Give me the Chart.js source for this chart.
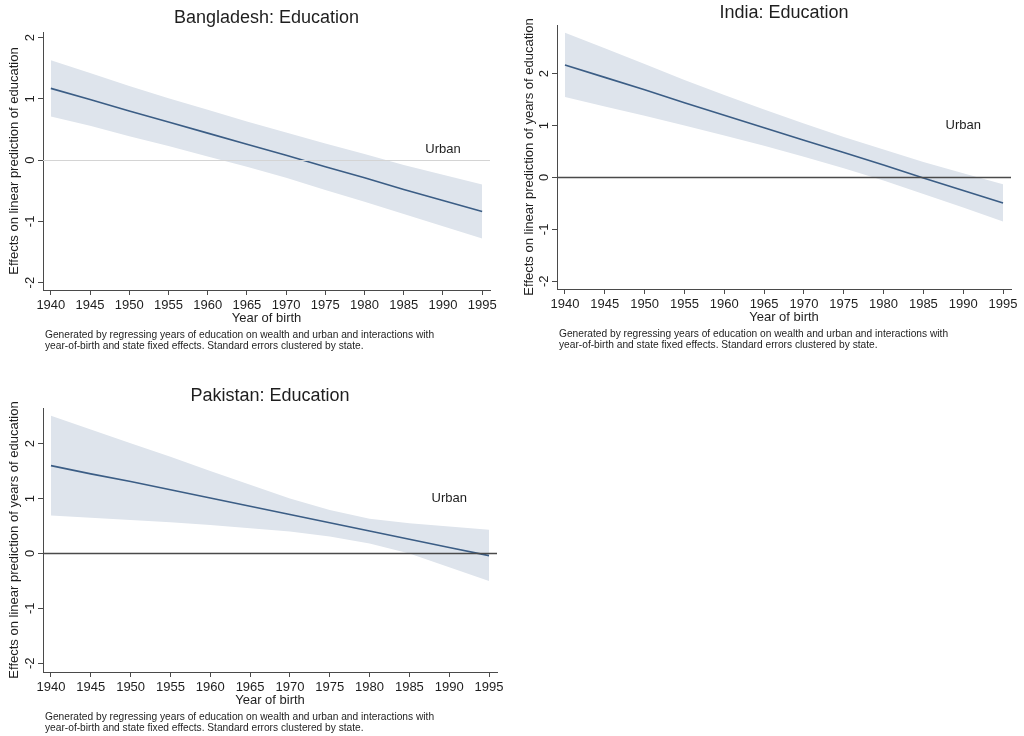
<!DOCTYPE html>
<html>
<head>
<meta charset="utf-8">
<script src="https://cdn.jsdelivr.net/npm/chart.js@4.4.1/dist/chart.umd.min.js"></script>
<style>
  html, body { margin: 0; padding: 0; background: #fff; }
  body { width: 1024px; height: 736px; position: relative; overflow: hidden; }
  .panel { position: absolute; }
</style>
</head>
<body>
<div class="panel" style="left:0;top:0;width:512px;height:360px"><canvas id="bgd" width="512" height="360"></canvas></div>
<div class="panel" style="left:512px;top:0;width:512px;height:360px"><canvas id="ind" width="512" height="360"></canvas></div>
<div class="panel" style="left:0;top:380px;width:512px;height:356px"><canvas id="pak" width="512" height="356"></canvas></div>
<script>
// Year of birth (x) and tick labels shared by all panels
const years = [1940, 1945, 1950, 1955, 1960, 1965, 1970, 1975, 1980, 1985, 1990, 1995];
const xTicks = [1940, 1945, 1950, 1955, 1960, 1965, 1970, 1975, 1980, 1985, 1990, 1995];
const yTicks = [-2, -1, 0, 1, 2];

// Bangladesh: marginal effect of urban on education, with 95% CI
const bgdEffect = [1.17, 0.99, 0.80, 0.62, 0.44, 0.26, 0.08, -0.11, -0.29, -0.48, -0.66, -0.84];
const bgdUpper  = [1.63, 1.42, 1.21, 1.01, 0.82, 0.63, 0.45, 0.27, 0.10, -0.08, -0.24, -0.40];
const bgdLower  = [0.71, 0.56, 0.39, 0.23, 0.06, -0.11, -0.29, -0.49, -0.68, -0.88, -1.08, -1.28];

// India
const indEffect = [2.17, 1.93, 1.69, 1.44, 1.20, 0.96, 0.72, 0.48, 0.24, -0.01, -0.25, -0.49];
const indUpper  = [2.79, 2.49, 2.19, 1.88, 1.59, 1.31, 1.04, 0.78, 0.54, 0.30, 0.08, -0.13];
const indLower  = [1.55, 1.37, 1.19, 1.00, 0.81, 0.61, 0.40, 0.18, -0.06, -0.32, -0.58, -0.85];

// Pakistan
const pakEffect = [1.60, 1.45, 1.31, 1.16, 1.01, 0.86, 0.71, 0.56, 0.41, 0.26, 0.11, -0.04];
const pakUpper  = [2.51, 2.26, 2.01, 1.76, 1.50, 1.25, 1.00, 0.79, 0.63, 0.55, 0.49, 0.43];
const pakLower  = [0.69, 0.65, 0.61, 0.57, 0.52, 0.46, 0.40, 0.31, 0.18, 0.00, -0.25, -0.50];

const noteLines = [
  'Generated by regressing years of education on wealth and urban and interactions with',
  'year-of-birth and state fixed effects. Standard errors clustered by state.'
];

const FONT = '"Liberation Sans", Arial, Helvetica, sans-serif';
const LINE_COLOR = '#3b5d85';
const BAND_COLOR = 'rgb(222,228,236)';
const AXIS_COLOR = '#4a4a4a';
const TEXT_COLOR = '#1e1e1e';

function pts(xs, ys) { return xs.map((x, i) => ({ x: x, y: ys[i] })); }

function makePanel(id, cfg) {
  const canvas = document.getElementById(id);
  const W = canvas.width, H = canvas.height;
  const area = cfg.area; // plot box inside the canvas

  const textPlugin = {
    id: 'stataText',
    afterDatasetsDraw(chart) {
      const ctx = chart.ctx;
      const ys = chart.scales.y;
      const ca = chart.chartArea;
      ctx.save();
      // reference line at zero
      const y0 = Math.round(ys.getPixelForValue(0)) + 0.5;
      ctx.strokeStyle = cfg.zeroColor;
      ctx.lineWidth = cfg.zeroWidth;
      ctx.beginPath();
      ctx.moveTo(ca.left, y0);
      ctx.lineTo(ca.right, y0);
      ctx.stroke();
      ctx.restore();
    },
    afterDraw(chart) {
      const ctx = chart.ctx;
      const xs = chart.scales.x, ys = chart.scales.y;
      const ca = chart.chartArea;
      ctx.save();
      ctx.fillStyle = TEXT_COLOR;

      // title
      ctx.font = '18px ' + FONT;
      ctx.textAlign = 'center';
      ctx.textBaseline = 'middle';
      ctx.fillText(cfg.title, (ca.left + ca.right) / 2, cfg.titleY);

      // y tick labels, rotated
      ctx.font = '13px ' + FONT;
      ys.ticks.forEach(t => {
        const py = ys.getPixelForValue(t.value);
        ctx.save();
        ctx.translate(ca.left - 13, py);
        ctx.rotate(-Math.PI / 2);
        ctx.textAlign = 'center';
        ctx.textBaseline = 'middle';
        ctx.fillText(String(t.value), 0, 0);
        ctx.restore();
      });

      // x tick labels
      ctx.textAlign = 'center';
      ctx.textBaseline = 'middle';
      xs.ticks.forEach(t => {
        ctx.fillText(String(t.value), xs.getPixelForValue(t.value), ca.bottom + 15.5);
      });

      // axis titles
      ctx.font = '13px ' + FONT;
      ctx.fillText('Year of birth', (ca.left + ca.right) / 2, ca.bottom + 28.5);
      ctx.save();
      ctx.translate(cfg.yTitleX, cfg.yTitleY);
      ctx.rotate(-Math.PI / 2);
      ctx.fillText(cfg.yTitle, 0, 0);
      ctx.restore();

      // series label
      ctx.fillText('Urban', xs.getPixelForValue(cfg.labelAt[0]), ys.getPixelForValue(cfg.labelAt[1]));

      // note under the graph
      ctx.font = '10.2px ' + FONT;
      ctx.textAlign = 'left';
      ctx.fillText(noteLines[0], ca.left + 2, ca.bottom + 45);
      ctx.fillText(noteLines[1], ca.left + 2, ca.bottom + 56);
      ctx.restore();
    }
  };

  return new Chart(canvas, {
    type: 'line',
    data: {
      datasets: [
        { data: pts(years, cfg.upper), borderWidth: 0, pointRadius: 0, backgroundColor: BAND_COLOR, fill: '+1', tension: 0, order: 2 },
        { data: pts(years, cfg.lower), borderWidth: 0, pointRadius: 0, backgroundColor: BAND_COLOR, fill: false, tension: 0, order: 2 },
        { data: pts(years, cfg.effect), borderColor: LINE_COLOR, borderWidth: 1.6, pointRadius: 0, fill: false, tension: 0, order: 1 }
      ]
    },
    options: {
      responsive: false,
      animation: false,
      devicePixelRatio: 1,
      layout: { padding: { left: 0, top: area.top, right: W - area.right, bottom: 0 } },
      plugins: { legend: { display: false }, title: { display: false }, tooltip: { enabled: false } },
      scales: {
        x: {
          type: 'linear',
          min: 1939, max: 1996,
          afterBuildTicks: s => { s.ticks = xTicks.map(v => ({ value: v })); },
          afterFit: s => { s.height = H - area.bottom; },
          ticks: { display: false },
          grid: { drawOnChartArea: false, drawTicks: true, tickLength: 5, color: AXIS_COLOR, lineWidth: 1 },
          border: { display: true, color: AXIS_COLOR, width: 1 }
        },
        y: {
          type: 'linear',
          min: cfg.yMin, max: cfg.yMax,
          afterBuildTicks: s => { s.ticks = yTicks.map(v => ({ value: v })); },
          afterFit: s => { s.width = area.left; },
          ticks: { display: false },
          grid: { drawOnChartArea: false, drawTicks: true, tickLength: 5, color: AXIS_COLOR, lineWidth: 1 },
          border: { display: true, color: AXIS_COLOR, width: 1 }
        }
      }
    },
    plugins: [textPlugin]
  });
}

makePanel('bgd', {
  title: 'Bangladesh: Education',
  titleY: 18.5,
  yTitle: 'Effects on linear prediction of education',
  yTitleX: 14, yTitleY: 161,
  area: { left: 43, top: 32, right: 490, bottom: 290 },
  yMin: -2.12, yMax: 2.09,
  effect: bgdEffect, upper: bgdUpper, lower: bgdLower,
  zeroColor: '#d4d4d4', zeroWidth: 1.2,
  labelAt: [1990, 0.18]
});

makePanel('ind', {
  title: 'India: Education',
  titleY: 13.5,
  yTitle: 'Effects on linear prediction of years of education',
  yTitleX: 17, yTitleY: 157,
  area: { left: 45, top: 25, right: 499, bottom: 289 },
  yMin: -2.15, yMax: 2.94,
  effect: indEffect, upper: indUpper, lower: indLower,
  zeroColor: '#4a4a4a', zeroWidth: 1.4,
  labelAt: [1990, 1.0]
});

makePanel('pak', {
  title: 'Pakistan: Education',
  titleY: 16,
  yTitle: 'Effects on linear prediction of years of education',
  yTitleX: 14, yTitleY: 160,
  area: { left: 43, top: 28, right: 497, bottom: 292 },
  yMin: -2.16, yMax: 2.65,
  effect: pakEffect, upper: pakUpper, lower: pakLower,
  zeroColor: '#4a4a4a', zeroWidth: 1.4,
  labelAt: [1990, 1.0]
});
</script>
</body>
</html>
